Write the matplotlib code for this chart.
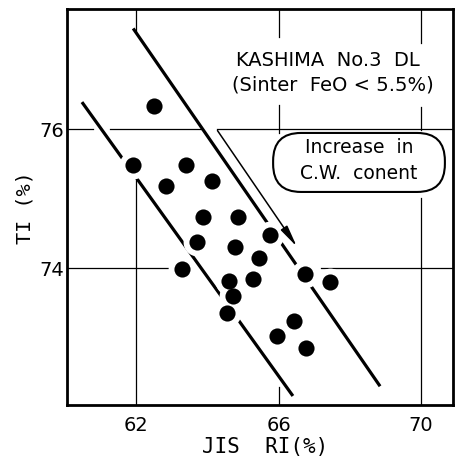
import matplotlib
matplotlib.use("Agg")
import matplotlib.pyplot as plt
from matplotlib.patches import FancyBboxPatch, FancyArrowPatch

# data
ri = [62.49, 61.90, 63.39, 62.83, 64.12, 63.86, 64.87, 63.70, 65.77, 64.76, 65.44,
      63.28, 64.61, 65.28, 64.71, 66.73, 67.43, 64.54, 66.42, 65.95, 66.78]
ti = [76.33, 75.48, 75.48, 75.18, 75.26, 74.74, 74.74, 74.37, 74.48, 74.30, 74.15,
      73.99, 73.82, 73.85, 73.60, 73.92, 73.80, 73.35, 73.24, 73.02, 72.85]

upper_x = [61.91, 68.85]
upper_y = [77.45, 72.30]
lower_x = [60.47, 66.40]
lower_y = [76.39, 72.16]
arrow_start = (64.28, 75.98)
arrow_end = (66.51, 74.31)

xticks = [62, 66, 70]
yticks = [74, 76]
xlim = (60.05, 70.90)
ylim = (72.03, 77.73)

fig = plt.figure(figsize=(4.55, 4.57), dpi=100)
ax = fig.add_axes([67/455, 1-405/457, 386/455, 396/457])
ax.set_xlim(*xlim)
ax.set_ylim(*ylim)

# grid segments (partially erased in the original)
glw = 0.9
ax.axvline(62, 0.0, 0.568, color='black', lw=glw, zorder=1)
ax.axvline(62, 0.939, 1.0, color='black', lw=glw, zorder=1)
ax.axvline(66, 0.929, 1.0, color='black', lw=glw, zorder=1)
ax.axvline(66, 0.687, 0.758, color='black', lw=glw, zorder=1)
ax.axvline(66, 0.0, 0.045, color='black', lw=glw, zorder=1)
ax.axvline(70, 0.914, 1.0, color='black', lw=glw, zorder=1)
ax.axvline(70, 0.694, 0.753, color='black', lw=glw, zorder=1)
ax.axvline(70, 0.0, 0.523, color='black', lw=glw, zorder=1)
ax.axhline(76, 0.0, 0.067, color='black', lw=glw, zorder=1)
ax.axhline(76, 0.111, 0.347, color='black', lw=glw, zorder=1)
ax.axhline(76, 0.389, 1.0, color='black', lw=glw, zorder=1)
ax.axhline(74, 0.0, 0.267, color='black', lw=glw, zorder=1)
ax.axhline(74, 0.658, 1.0, color='black', lw=glw, zorder=1)

# band lines
ax.plot(upper_x, upper_y, color='black', lw=2.3, solid_capstyle='butt', zorder=2)
ax.plot(lower_x, lower_y, color='black', lw=2.3, solid_capstyle='butt', zorder=2)

# white halos around the dots, then dots
ax.scatter(ri, ti, s=400, color='white', linewidths=0, zorder=3)
ax.scatter(ri, ti, s=135, color='black', linewidths=0, zorder=5)

# arrow
arr = FancyArrowPatch(arrow_start, arrow_end, arrowstyle='-|>,head_length=1.0,head_width=0.18',
                      mutation_scale=13, color='black', lw=1.1, zorder=4,
                      shrinkA=0, shrinkB=0)
ax.add_patch(arr)

# texts
ax.text(0.676, 0.871, "KASHIMA  No.3  DL", transform=ax.transAxes, ha='center', va='center',
        fontsize=14, zorder=6)
ax.text(0.688, 0.808, "(Sinter  FeO < 5.5%)", transform=ax.transAxes, ha='center', va='center',
        fontsize=14, zorder=6)

box = FancyBboxPatch((0.534, 0.538), 0.445, 0.149, transform=ax.transAxes,
                     boxstyle="round,pad=0,rounding_size=0.072", mutation_aspect=0.975,
                     facecolor='white', edgecolor='black', lw=1.5, zorder=6)
ax.add_patch(box)
ax.text(0.756, 0.651, "Increase  in", transform=ax.transAxes, ha='center', va='center',
        fontsize=13.5, zorder=7)
ax.text(0.756, 0.585, "C.W.  conent", transform=ax.transAxes, ha='center', va='center',
        fontsize=13.5, zorder=7)

# axes styling
ax.set_xticks(xticks)
ax.set_yticks(yticks)
ax.set_xticklabels([str(v) for v in xticks])
ax.set_yticklabels([str(v) for v in yticks])
ax.tick_params(axis='both', length=0, labelsize=14)
ax.tick_params(axis='x', pad=8)
ax.tick_params(axis='y', pad=2)
for s in ax.spines.values():
    s.set_linewidth(2.0)
    s.set_zorder(10)

fig.text(265/455, 1-447/457, "JIS  RI(%)", ha='center', va='center', fontsize=15,
         family='DejaVu Sans Mono')
fig.text(25/455, 1-208/457, "TI (%)", ha='center', va='center', fontsize=14.5,
         rotation=90, family='DejaVu Sans Mono')

fig.savefig("out.png", dpi=100)
